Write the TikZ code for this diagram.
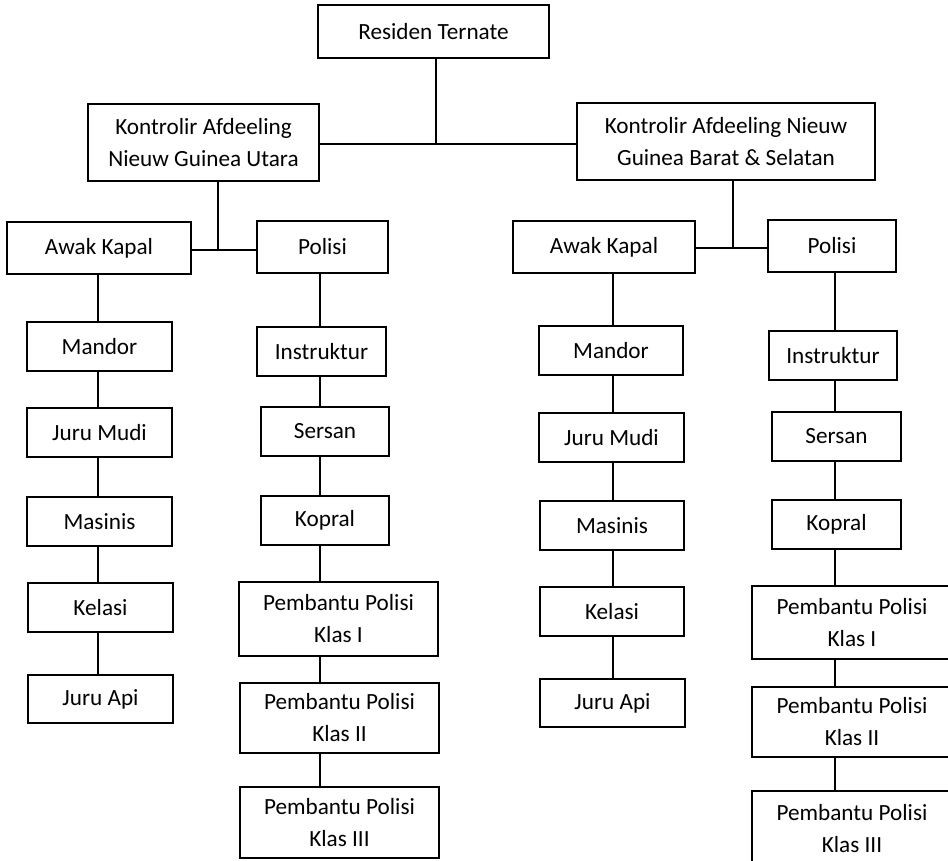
\documentclass[tikz,border=0pt]{standalone}
\usepackage{fontspec}
\setmainfont{Carlito}
\newcommand\bx[6]{\node[box,minimum width={(#4-#2)*1pt},minimum height={(#5-#3)*1pt}] (#1) at ({(#2+#4)/2},{(#3+#5)/2}) {#6};}
\begin{document}
\begin{tikzpicture}[x=1pt,y=-1pt,
  box/.style={draw,line width=1.5pt,inner sep=0pt,align=center,font=\fontsize{23.2}{32}\selectfont},
  conn/.style={line width=1.5pt}]
\clip (0,0) rectangle (948,861);
\fill[white] (0,0) rectangle (948,861);
\bx{res}{318}{5}{549}{58}{Residen Ternate}
\bx{kl}{88}{104}{319}{181}{Kontrolir Afdeeling\\Nieuw Guinea Utara}
\bx{kr}{577}{103}{875}{180}{Kontrolir Afdeeling Nieuw\\Guinea Barat \& Selatan}
\bx{awL}{7}{222}{191}{274}{Awak Kapal}
\bx{poL}{257}{221}{388}{273}{Polisi}
\bx{awR}{513}{221}{695}{273}{Awak Kapal}
\bx{poR}{768}{220}{896}{272}{Polisi}
% left awak column
\bx{manL}{27}{322}{172}{371}{Mandor}
\bx{jmL}{27}{408}{172}{457}{Juru Mudi}
\bx{masL}{27}{497}{172}{546}{Masinis}
\bx{kelL}{28}{583}{173}{632}{Kelasi}
\bx{jaL}{28}{675}{173}{723}{Juru Api}
% left polisi column
\bx{insL}{257}{327}{386}{376}{Instruktur}
\bx{serL}{261}{407}{389}{456}{Sersan}
\bx{kopL}{261}{496}{389}{545}{Kopral}
\bx{ppaL}{239}{582}{438}{656}{Pembantu Polisi\\Klas I}
\bx{ppbL}{240}{683}{439}{753}{Pembantu Polisi\\Klas II}
\bx{ppcL}{240}{787}{439}{858}{Pembantu Polisi\\Klas III}
% right awak column
\bx{manR}{539}{326}{683}{375}{Mandor}
\bx{jmR}{539}{413}{684}{462}{Juru Mudi}
\bx{masR}{540}{501}{684}{550}{Masinis}
\bx{kelR}{540}{587}{684}{636}{Kelasi}
\bx{jaR}{540}{679}{685}{727}{Juru Api}
% right polisi column
\bx{insR}{769}{331}{897}{380}{Instruktur}
\bx{serR}{772}{412}{901}{461}{Sersan}
\bx{kopR}{772}{500}{901}{549}{Kopral}
\bx{ppaR}{752}{586}{952}{659}{Pembantu Polisi\\Klas I}
\bx{ppbR}{752}{687}{952}{757}{Pembantu Polisi\\Klas II}
\bx{ppcR}{752}{791}{952}{866}{Pembantu Polisi\\Klas III}
% junction coordinates
\coordinate (tj) at (436,144);
\coordinate (lj) at (218,250);
\coordinate (rj) at (733,248);
\coordinate (cAL) at (98,0);
\coordinate (cPL) at (320,0);
\coordinate (cAR) at (613,0);
\coordinate (cPR) at (835,0);
% top connectors
\draw[conn] (res.south -| tj) -- (tj);
\draw[conn] (kl.east |- tj) -- (kr.west |- tj);
\draw[conn] (kl.south -| lj) -- (lj);
\draw[conn] (awL.east |- lj) -- (poL.west |- lj);
\draw[conn] (kr.south -| rj) -- (rj);
\draw[conn] (awR.east |- rj) -- (poR.west |- rj);
% columns
\draw[conn] (awL.south -| cAL) -- (manL.north -| cAL);
\draw[conn] (manL.south -| cAL) -- (jmL.north -| cAL);
\draw[conn] (jmL.south -| cAL) -- (masL.north -| cAL);
\draw[conn] (masL.south -| cAL) -- (kelL.north -| cAL);
\draw[conn] (kelL.south -| cAL) -- (jaL.north -| cAL);
\draw[conn] (poL.south -| cPL) -- (insL.north -| cPL);
\draw[conn] (insL.south -| cPL) -- (serL.north -| cPL);
\draw[conn] (serL.south -| cPL) -- (kopL.north -| cPL);
\draw[conn] (kopL.south -| cPL) -- (ppaL.north -| cPL);
\draw[conn] (ppaL.south -| cPL) -- (ppbL.north -| cPL);
\draw[conn] (ppbL.south -| cPL) -- (ppcL.north -| cPL);
\draw[conn] (awR.south -| cAR) -- (manR.north -| cAR);
\draw[conn] (manR.south -| cAR) -- (jmR.north -| cAR);
\draw[conn] (jmR.south -| cAR) -- (masR.north -| cAR);
\draw[conn] (masR.south -| cAR) -- (kelR.north -| cAR);
\draw[conn] (kelR.south -| cAR) -- (jaR.north -| cAR);
\draw[conn] (poR.south -| cPR) -- (insR.north -| cPR);
\draw[conn] (insR.south -| cPR) -- (serR.north -| cPR);
\draw[conn] (serR.south -| cPR) -- (kopR.north -| cPR);
\draw[conn] (kopR.south -| cPR) -- (ppaR.north -| cPR);
\draw[conn] (ppaR.south -| cPR) -- (ppbR.north -| cPR);
\draw[conn] (ppbR.south -| cPR) -- (ppcR.north -| cPR);
\end{tikzpicture}
\end{document}
